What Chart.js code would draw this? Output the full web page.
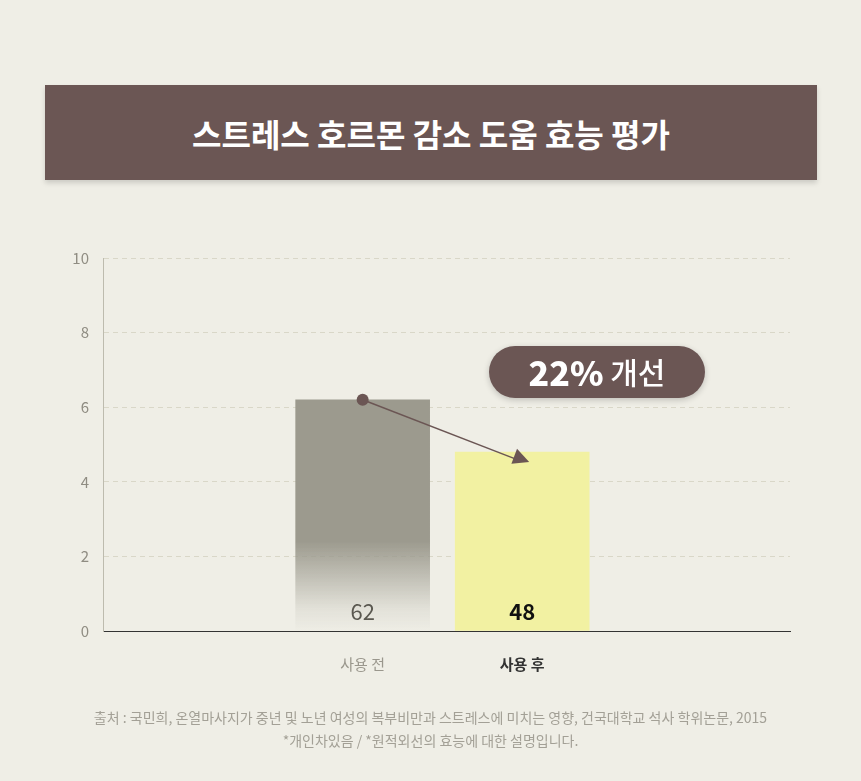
<!DOCTYPE html>
<html><head><meta charset="utf-8">
<script src="https://cdn.jsdelivr.net/npm/chart.js@4"></script>
<style>
body{margin:0;background:#efeee6;font-family:"Noto Sans CJK KR",sans-serif;}
#wrap{position:relative;width:861px;height:781px;}
#banner{position:absolute;left:45px;top:85px;width:772px;height:95px;background:#6b5654;color:#fff;font-size:32px;font-weight:700;display:flex;align-items:center;justify-content:center;box-shadow:0 3px 5px rgba(0,0,0,0.15);}
#src{position:absolute;left:0;top:706px;width:861px;text-align:center;color:#a3a096;font-size:14px;line-height:23px;}
canvas{position:absolute;left:0;top:0;}
</style></head><body>
<div id="wrap">
<div id="banner">스트레스 호르몬 감소 도움 효능 평가</div>
<canvas id="c" width="861" height="781"></canvas>
<div id="src">출처 : 국민희, 온열마사지가 중년 및 노년 여성의 복부비만과 스트레스에 미치는 영향, 건국대학교 석사 학위논문, 2015<br>*개인차있음 / *원적외선의 효능에 대한 설명입니다.</div>
</div>
<script>
const categories = ["사용 전", "사용 후"];
const values = [6.2, 4.8];
const valueLabels = ["62", "48"];
const badgeText = ["22%", " 개선"];

const overlay = {
  id: "overlay",
  afterDatasetsDraw(chart) {
    const c = chart.ctx;
    const meta = chart.getDatasetMeta(0);
    const b0 = meta.data[0], b1 = meta.data[1];
    const bottom = chart.chartArea.bottom;
    c.save();
    c.textAlign = "center"; c.textBaseline = "middle";
    c.font = "400 22px 'Noto Sans CJK KR'"; c.fillStyle = "#5a5850";
    c.fillText(valueLabels[0], b0.x, bottom - 19);
    c.font = "700 22px 'Noto Sans CJK KR'"; c.fillStyle = "#111";
    c.fillText(valueLabels[1], b1.x, bottom - 19);
    const x0 = b0.x, y0 = b0.y;
    const x1 = b1.x + 7, y1 = b1.y + 10;
    c.strokeStyle = "#6b5654"; c.fillStyle = "#6b5654"; c.lineWidth = 1.5;
    c.beginPath(); c.moveTo(x0, y0); c.lineTo(x1 - 12, y1 - 2.3); c.stroke();
    const a = Math.atan2(y1 - y0, x1 - x0);
    c.beginPath();
    c.moveTo(x1, y1);
    c.lineTo(x1 - 16 * Math.cos(a) + 8 * Math.sin(a), y1 - 16 * Math.sin(a) - 8 * Math.cos(a));
    c.lineTo(x1 - 16 * Math.cos(a) - 8 * Math.sin(a), y1 - 16 * Math.sin(a) + 8 * Math.cos(a));
    c.closePath(); c.fill();
    c.beginPath(); c.arc(x0, y0, 6, 0, Math.PI * 2); c.fill();
    const cx = 597, cy = 372, w = 216, h = 52;
    c.shadowColor = "rgba(0,0,0,0.2)"; c.shadowBlur = 6; c.shadowOffsetY = 2;
    c.beginPath(); c.roundRect(cx - w / 2, cy - h / 2, w, h, h / 2); c.fill();
    c.shadowColor = "transparent";
    c.fillStyle = "#fff"; c.textAlign = "left";
    c.font = "800 34px 'Noto Sans CJK KR'";
    const t1 = c.measureText(badgeText[0]).width;
    c.font = "500 30px 'Noto Sans CJK KR'";
    const t2 = c.measureText(badgeText[1]).width;
    const sx = cx - (t1 + t2) / 2;
    c.font = "800 34px 'Noto Sans CJK KR'"; c.fillText(badgeText[0], sx, cy + 1);
    c.font = "500 30px 'Noto Sans CJK KR'"; c.fillText(badgeText[1], sx + t1, cy + 1);
    c.restore();
  }
};

new Chart(document.getElementById("c"), {
  type: "bar",
  data: {
    datasets: [{
      data: values.map((v, i) => ({ x: i, y: v })),
      barThickness: 134,
      backgroundColor: (ctx) => {
        const area = ctx.chart.chartArea;
        if (!area) return "#9c9a8e";
        if (ctx.dataIndex === 1) return "#f2f1a2";
        const g = ctx.chart.ctx.createLinearGradient(0, area.bottom, 0, area.top);
        g.addColorStop(0, "rgba(156,154,142,0)");
        g.addColorStop(0.06, "rgba(156,154,142,0.15)");
        g.addColorStop(0.24, "rgba(156,154,142,1)");
        g.addColorStop(1, "rgba(156,154,142,1)");
        return g;
      }
    }]
  },
  options: {
    responsive: false,
    animation: false,
    layout: { padding: { left: 60, right: 71, top: 258, bottom: 0 } },
    plugins: { legend: { display: false }, tooltip: { enabled: false } },
    scales: {
      x: {
        type: "linear",
        min: -0.551, max: 1.602,
        afterFit: (s) => { s.height = 150; },
        afterBuildTicks: (s) => { s.ticks = categories.map((_, i) => ({ value: i })); },
        grid: { display: false },
        border: { color: "#333", width: 1 },
        ticks: {
          padding: 16,
          callback: (v) => categories[v],
          color: (ctx) => ctx.index === 1 ? "#333" : "#9a978d",
          font: (ctx) => ({ family: "Noto Sans CJK KR", size: 15, weight: ctx.index === 1 ? "700" : "400" })
        }
      },
      y: {
        min: 0, max: 10,
        afterFit: (s) => { s.width = 43; },
        grid: { color: "#d9d7c8", drawTicks: false },
        border: { color: "#bdbbae", dash: [5, 4] },
        ticks: { stepSize: 2, padding: 14, color: "#8f8c82", font: { family: "Noto Sans CJK KR", size: 15 } }
      }
    }
  },
  plugins: [overlay]
});
</script>
</body></html>
